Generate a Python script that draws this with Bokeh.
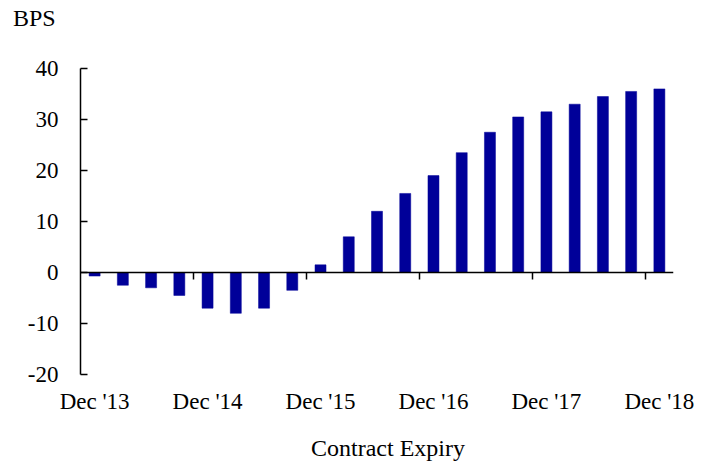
from bokeh.plotting import figure
from bokeh.models import LinearAxis, FixedTicker, ColumnDataSource, Div
from bokeh.layouts import column
from bokeh.embed import file_html
from bokeh.resources import INLINE

# Data
expiries = ["Dec '13", "Mar '14", "Jun '14", "Sep '14", "Dec '14", "Mar '15", "Jun '15",
            "Sep '15", "Dec '15", "Mar '16", "Jun '16", "Sep '16", "Dec '16", "Mar '17",
            "Jun '17", "Sep '17", "Dec '17", "Mar '18", "Jun '18", "Sep '18", "Dec '18"]
bps = [-0.7, -2.5, -3.0, -4.5, -7.0, -8.0, -7.0, -3.5, 1.5, 7.0, 12.0, 15.5, 19.0,
       23.5, 27.5, 30.5, 31.5, 33.0, 34.5, 35.5, 36.0]
y_ticks = [-20, -10, 0, 10, 20, 30, 40]
y_tick_labels = ["-20", "-10", "0", "10", "20", "30", "40"]
label_idx = [0, 4, 8, 12, 16, 20]
tick_idx = [3.5, 7.5, 11.5, 15.5, 19.5]
y_title = "BPS"
x_title = "Contract Expiry"

FONT = "Liberation Serif"
TICK_SIZE = "23px"
TITLE_SIZE = "24px"

src = ColumnDataSource(dict(x=list(range(len(expiries))), top=bps, name=expiries))

p = figure(width=713, height=392, x_range=(-0.5, len(expiries) - 0.5), y_range=(-20, 40),
           output_backend="svg", toolbar_location=None,
           x_axis_location=None, y_axis_location=None,
           min_border_left=80, min_border_right=40, min_border_top=36, min_border_bottom=50,
           margin=(0, 0, 0, 0))
p.grid.visible = False
p.outline_line_color = None
p.background_fill_color = "white"
p.border_fill_color = "white"

p.vbar(x="x", top="top", bottom=0, width=0.39, source=src,
       fill_color="#000099", line_color="#000099", line_width=0.5)

# Y axis
yax = LinearAxis(ticker=FixedTicker(ticks=y_ticks))
yax.major_label_overrides = dict(zip(y_ticks, y_tick_labels))
yax.major_tick_in = 7
yax.major_tick_out = 0
yax.minor_tick_line_color = None
yax.axis_line_width = 1.5
yax.major_tick_line_width = 1.5
yax.major_label_standoff = 22
yax.major_label_text_font = FONT
yax.major_label_text_font_size = TICK_SIZE
yax.major_label_text_color = "black"
p.add_layout(yax, "left")

# Zero-line axis with ticks (drawn at y=0)
zax = LinearAxis(ticker=FixedTicker(ticks=tick_idx), fixed_location=0)
zax.major_tick_in = 0
zax.major_tick_out = 7
zax.minor_tick_line_color = None
zax.axis_line_width = 1.5
zax.major_tick_line_width = 1.5
zax.major_label_standoff = 0
zax.major_label_text_font_size = "0px"
zax.major_label_text_color = None
p.add_layout(zax, "below")

# Label axis at the bottom
lax = LinearAxis(ticker=FixedTicker(ticks=label_idx))
lax.major_label_overrides = {i: expiries[i] for i in label_idx}
lax.axis_line_color = None
lax.major_tick_line_color = None
lax.minor_tick_line_color = None
lax.major_tick_in = 0
lax.major_tick_out = 0
lax.major_label_standoff = 14
lax.major_label_text_font = FONT
lax.major_label_text_font_size = TICK_SIZE
lax.major_label_text_color = "black"
p.add_layout(lax, "below")

title_style = {"font-family": FONT, "font-size": TITLE_SIZE, "line-height": "24px",
               "color": "black", "white-space": "nowrap"}
top_div = Div(text=y_title, width=713, height=32, margin=(0, 0, 0, 0),
              styles=dict(title_style, **{"padding-top": "6px", "padding-left": "13px"}))
bottom_div = Div(text=x_title, width=713, height=40, margin=(0, 0, 0, 0),
                 styles=dict(title_style, **{"padding-top": "12px", "padding-left": "311px"}))

layout = column(top_div, p, bottom_div, spacing=0, margin=(0, 0, 0, 0))

open("out.html", "w").write(file_html(layout, INLINE))
